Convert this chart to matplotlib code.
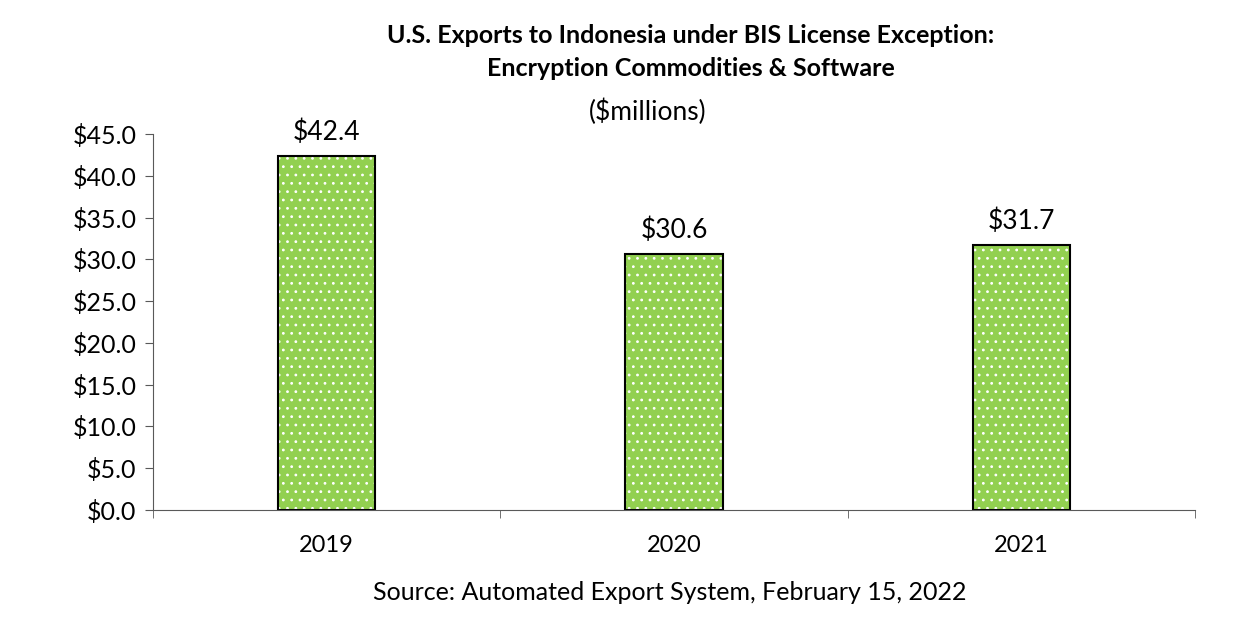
import matplotlib.pyplot as plt
import numpy as np

years = ["2019", "2020", "2021"]
exports = [42.4, 30.6, 31.7]
y_ticks = [0, 5, 10, 15, 20, 25, 30, 35, 40, 45]

plt.rcParams['font.family'] = ['Lato', 'DejaVu Sans']
plt.rcParams['hatch.linewidth'] = 0.8

fig = plt.figure(figsize=(12.51, 6.26), dpi=100)
ax = fig.add_axes([0.1223, 0.1853, 0.8329, 0.6007])

x = np.arange(len(years))
green = '#92D050'
# fill with white dot hatch, then black outline on top
ax.bar(x, exports, width=0.28, color=green, edgecolor='white', hatch='..', linewidth=0)
ax.bar(x, exports, width=0.28, fill=False, edgecolor='black', linewidth=1.5)

for xi, v in zip(x, exports):
    ax.text(xi, v + 1.3, f'${v:.1f}', ha='center', va='bottom', fontsize=19)

ax.set_xlim(-0.5, len(years) - 0.5)
ax.set_ylim(0, 45)
ax.set_yticks(y_ticks)
ax.set_yticklabels([f'${t:.1f}' for t in y_ticks], fontsize=18)

# category labels centered, tick marks between categories
ax.set_xticks(x)
ax.set_xticklabels(years, fontsize=17)
ax.tick_params(axis='x', length=0, pad=18)
ax.set_xticks(np.arange(-0.5, len(years)), minor=True)
ax.tick_params(axis='x', which='minor', length=6, color='#595959')
ax.tick_params(axis='y', length=6, color='#595959', pad=6)

for s in ['top', 'right']:
    ax.spines[s].set_visible(False)
ax.spines['left'].set_color('#595959')
ax.spines['bottom'].set_color('#595959')

fig.text(0.552, 0.943, 'U.S. Exports to Indonesia under BIS License Exception:',
         ha='center', va='center', fontsize=18, fontweight='bold')
fig.text(0.552, 0.891, 'Encryption Commodities & Software',
         ha='center', va='center', fontsize=18, fontweight='bold')
fig.text(0.518, 0.821, '($millions)', ha='center', va='center', fontsize=19)
fig.text(0.535, 0.053, 'Source: Automated Export System, February 15, 2022',
         ha='center', va='center', fontsize=18)

plt.savefig('out.png', dpi=100)
